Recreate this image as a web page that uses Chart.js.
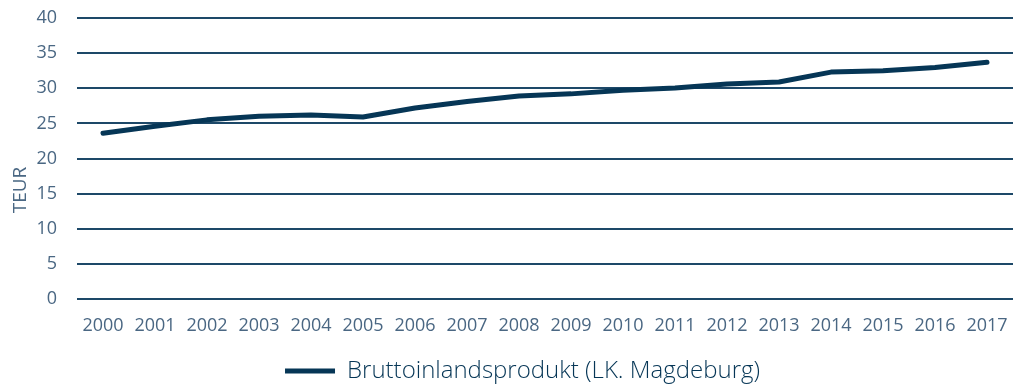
<!DOCTYPE html>
<html>
<head>
<meta charset="utf-8">
<script src="https://cdn.jsdelivr.net/npm/chart.js@4/dist/chart.umd.min.js"></script>
<style>
  html, body { margin: 0; padding: 0; background: #ffffff; }
  #wrap { width: 1013px; height: 384px; position: relative; }
</style>
</head>
<body>
<div id="wrap"><canvas id="c"></canvas></div>
<script>
// Jahre (Kategorien)
const years = ['2000','2001','2002','2003','2004','2005','2006','2007','2008','2009',
               '2010','2011','2012','2013','2014','2015','2016','2017'];
// BIP je Einwohner in TEUR, Landkreis Magdeburg
const gdpValues = [23.6, 24.6, 25.5, 26.0, 26.2, 25.9, 27.2, 28.1, 28.9, 29.2,
                   29.7, 30.05, 30.6, 30.9, 32.3, 32.5, 32.95, 33.7];
// Achsenbeschriftung Y
const yTicks = [0, 5, 10, 15, 20, 25, 30, 35, 40];
const seriesLabel = 'Bruttoinlandsprodukt (LK. Magdeburg)';
const yTitle = 'TEUR';

const navy = '#063656';
const tickColor = '#4a6783';

// vertical axis title, drawn beside the tick labels
const axisTitlePlugin = {
  id: 'axisTitle',
  afterDraw(chart) {
    const ctx = chart.ctx;
    ctx.save();
    ctx.translate(21, 190);
    ctx.rotate(-Math.PI / 2);
    ctx.font = '19px "Open Sans"';
    ctx.fillStyle = tickColor;
    ctx.textAlign = 'center';
    ctx.textBaseline = 'middle';
    ctx.fillText(yTitle, 0, 0);
    ctx.restore();
  }
};

// legend sits a little right of the canvas centre
const legendShift = {
  id: 'legendShift',
  afterLayout(chart) {
    if (chart.legend) {
      chart.legend.left += 16;
      chart.legend.right += 16;
    }
  }
};

new Chart(document.getElementById('c'), {
  type: 'line',
  data: {
    labels: years,
    datasets: [{
      label: seriesLabel,
      data: gdpValues,
      borderColor: navy,
      backgroundColor: navy,
      borderWidth: 5,
      borderCapStyle: 'round',
      borderJoinStyle: 'round',
      pointRadius: 0,
      tension: 0,
      fill: false
    }]
  },
  options: {
    responsive: true,
    maintainAspectRatio: false,
    animation: false,
    layout: { padding: { left: 0, right: 0, top: 18, bottom: -9 } },
    plugins: {
      legend: {
        position: 'bottom',
        labels: {
          usePointStyle: true,
          pointStyle: 'line',
          pointStyleWidth: 50,
          boxHeight: 5,
          color: navy,
          padding: 10,
          font: { family: 'Open Sans', size: 24, weight: 300 }
        }
      },
      tooltip: { enabled: false }
    },
    scales: {
      x: {
        offset: true,
        grid: { display: false },
        border: { display: false },
        afterFit(scale) {
          scale.paddingLeft = 0;
          scale.paddingRight = 0;
          scale.height = 50;
        },
        ticks: {
          color: tickColor,
          padding: 8,
          maxRotation: 0,
          autoSkip: false,
          font: { family: 'Open Sans', size: 18 }
        }
      },
      y: {
        min: 0,
        max: 40,
        afterBuildTicks(scale) { scale.ticks = yTicks.map(v => ({ value: v })); },
        afterFit(scale) {
          scale.width = 77;
          scale.paddingTop = 0;
          scale.paddingBottom = 0;
        },
        grid: { color: '#1d4868', lineWidth: 2, drawTicks: false },
        border: { display: false },
        ticks: {
          color: tickColor,
          padding: 20,
          font: { family: 'Open Sans', size: 18 }
        }
      }
    }
  },
  plugins: [axisTitlePlugin, legendShift]
});
</script>
</body>
</html>
